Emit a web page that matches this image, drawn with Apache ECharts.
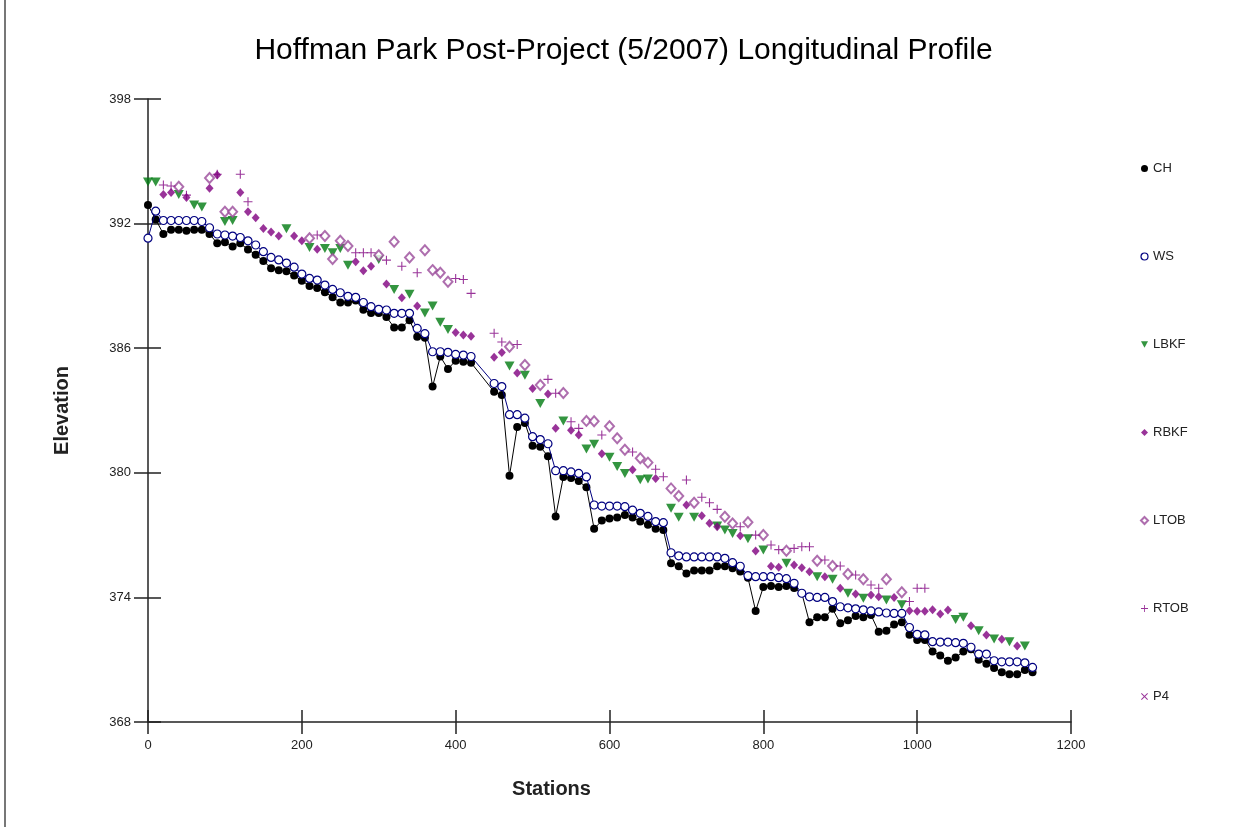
<!DOCTYPE html>
<html>
<head>
<meta charset="utf-8">
<title>Hoffman Park Longitudinal Profile</title>
<script src="https://cdn.jsdelivr.net/npm/echarts@6/dist/echarts.min.js"></script>
<style>
  html, body { margin: 0; padding: 0; background: #fff; }
  #chart { width: 1247px; height: 827px; }
</style>
</head>
<body>
<div id="chart"></div>
<script>
// thalweg (CH) and water surface (WS) share the same survey stations
var chStations = [0, 10, 20, 30, 40, 50, 60, 70, 80, 90, 100, 110, 120, 130, 140, 150, 160, 170, 180, 190,
    200, 210, 220, 230, 240, 250, 260, 270, 280, 290, 300, 310, 320, 330, 340, 350, 360, 370, 380, 390,
    400, 410, 420,
    450, 460, 470, 480, 490, 500, 510, 520, 530, 540, 550, 560, 570, 580, 590,
    600, 610, 620, 630, 640, 650, 660, 670, 680, 690, 700, 710, 720, 730, 740, 750, 760, 770, 780, 790,
    800, 810, 820, 830, 840, 850, 860, 870, 880, 890, 900, 910, 920, 930, 940, 950, 960, 970, 980, 990,
    1000, 1010, 1020, 1030, 1040, 1050, 1060, 1070, 1080, 1090, 1100, 1110, 1120, 1130, 1140, 1150];
var chElev = [392.9, 392.2, 391.5, 391.7, 391.7, 391.65, 391.7, 391.7, 391.5, 391.05,
    391.1, 390.9, 391.05, 390.75, 390.5, 390.2, 389.85, 389.75, 389.7, 389.5,
    389.25, 389.0, 388.9, 388.7, 388.45, 388.2, 388.2, 388.3, 387.85, 387.7,
    387.7, 387.5, 387.0, 387.0, 387.35, 386.55, 386.5, 384.15, 385.6, 385.0,
    385.4, 385.35, 385.3,
    383.9, 383.75, 379.86, 382.2, 382.4,
    381.3, 381.25, 380.8, 377.9, 379.8, 379.75, 379.6, 379.3, 377.3, 377.7,
    377.8, 377.85, 377.97, 377.85, 377.65, 377.5, 377.3, 377.25, 375.65, 375.5,
    375.15, 375.3, 375.3, 375.3, 375.5, 375.5, 375.4, 375.25, 374.95, 373.35,
    374.5, 374.55, 374.5, 374.55, 374.45, 374.2, 372.8, 373.05, 373.05, 373.45,
    372.75, 372.9, 373.1, 373.05, 373.15, 372.35, 372.4, 372.7, 372.8, 372.2,
    371.95, 371.95, 371.4, 371.2, 370.95, 371.1, 371.4, 371.5, 371.0, 370.8,
    370.6, 370.4, 370.3, 370.3, 370.5, 370.4];
var wsElev = [391.3, 392.6, 392.15, 392.15, 392.15, 392.15, 392.15, 392.1, 391.8, 391.5,
    391.45, 391.4, 391.33, 391.17, 390.97, 390.65, 390.37, 390.25, 390.1, 389.9,
    389.57, 389.36, 389.28, 389.04, 388.83, 388.67, 388.5, 388.45, 388.2, 388.0,
    387.87, 387.84, 387.68, 387.68, 387.68, 386.95, 386.7, 385.83, 385.83, 385.8,
    385.7, 385.67, 385.6,
    384.3, 384.15, 382.8, 382.8, 382.63,
    381.74, 381.6, 381.4, 380.1, 380.1, 380.04, 379.97, 379.8, 378.45, 378.4,
    378.4, 378.4, 378.37, 378.2, 378.05, 377.9, 377.65, 377.6, 376.15, 376.0,
    375.95, 375.95, 375.95, 375.95, 375.95, 375.88, 375.67, 375.5, 375.05, 375.0,
    375.0, 375.0, 374.95, 374.9, 374.68, 374.2, 374.03, 374.0, 374.0, 373.8,
    373.55, 373.5, 373.45, 373.4, 373.35, 373.3, 373.25, 373.23, 373.23, 372.55,
    372.22, 372.2, 371.87, 371.85, 371.85, 371.82, 371.79, 371.6, 371.27, 371.27,
    370.95, 370.9, 370.9, 370.9, 370.85, 370.63];

// left bankfull
var lbkfStations = [0, 10, 40, 60, 70, 100, 110, 180, 210, 230, 240, 250, 260, 300, 320, 340, 360, 370, 380, 390,
    470, 490, 510, 540, 570, 580, 600, 610, 620, 640, 650, 680, 690, 710, 740, 750, 760, 780, 800, 830,
    870, 890, 910, 930, 960, 980, 1050, 1060, 1080, 1100, 1120, 1140];
var lbkfElev = [394.0, 394.0, 393.4, 392.9, 392.8, 392.1, 392.15, 391.75, 390.85, 390.8, 390.6, 390.8, 390.0, 390.27, 388.83, 388.6, 387.7, 388.03, 387.25, 386.9,
    385.14, 384.7, 383.34, 382.5, 381.15, 381.38, 380.75, 380.3, 379.97, 379.66, 379.7, 378.29, 377.86, 377.86, 377.44, 377.25, 377.08, 376.82, 376.28, 375.64,
    375.0, 374.87, 374.2, 373.96, 373.87, 373.65, 372.94, 373.04, 372.4, 372.0, 371.87, 371.66];

// right bankfull
var rbkfStations = [20, 30, 50, 80, 90, 120, 130, 140, 150, 160, 170, 190, 200, 220, 270, 280, 290, 310, 330, 350,
    400, 410, 420, 450, 460, 480, 500, 520, 530, 550, 560, 590, 630, 660, 700, 720, 730, 740, 770, 790,
    810, 820, 840, 850, 860, 880, 900, 920, 940, 950, 970, 990, 1000, 1010, 1020, 1030, 1040, 1070, 1090, 1110, 1130];
var rbkfElev = [393.4, 393.5, 393.26, 393.7, 394.34, 393.5, 392.57, 392.28, 391.77, 391.6, 391.4, 391.4, 391.17, 390.76, 390.16, 389.73, 389.95, 389.09, 388.43, 388.03,
    386.76, 386.64, 386.58, 385.57, 385.79, 384.8, 384.06, 383.79, 382.14, 382.05, 381.82, 380.92, 380.15, 379.73, 378.45, 377.93, 377.57, 377.4, 376.97, 376.24,
    375.5, 375.45, 375.56, 375.43, 375.24, 375.0, 374.44, 374.16, 374.11, 374.03, 374.0, 373.36, 373.33, 373.33, 373.4, 373.2, 373.39, 372.64, 372.19, 371.98, 371.66];

// left top of bank
var ltobStations = [40, 80, 100, 110, 210, 230, 240, 250, 260, 300, 320, 340, 360, 370, 380, 390,
    470, 490, 510, 540, 570, 580, 600, 610, 620, 640, 650, 680, 690, 710, 750, 760, 780, 800, 830,
    870, 890, 910, 930, 960, 980];
var ltobElev = [393.77, 394.2, 392.57, 392.57, 391.3, 391.4, 390.3, 391.17, 390.92, 390.48, 391.13, 390.37, 390.72, 389.76, 389.63, 389.2,
    386.07, 385.19, 384.23, 383.84, 382.5, 382.48, 382.24, 381.66, 381.11, 380.7, 380.49, 379.25, 378.88, 378.56, 377.88, 377.56, 377.62, 377.0, 376.25,
    375.77, 375.51, 375.13, 374.87, 374.87, 374.25];

// right top of bank
var rtobStations = [20, 30, 50, 90, 120, 130, 220, 270, 280, 290, 310, 330, 350, 400, 410, 420,
    450, 460, 480, 520, 530, 550, 560, 590, 630, 660, 670, 700, 720, 730, 740, 770, 790,
    810, 820, 840, 850, 860, 880, 900, 920, 940, 950, 990, 1000, 1010];
var rtobElev = [393.86, 393.81, 393.37, 394.38, 394.38, 393.05, 391.45, 390.6, 390.6, 390.6, 390.24, 389.95, 389.63, 389.36, 389.31, 388.64,
    386.72, 386.3, 386.18, 384.5, 383.83, 382.46, 382.14, 381.82, 381.0, 380.17, 379.81, 379.65, 378.82, 378.56, 378.24, 377.4, 377.0,
    376.52, 376.3, 376.36, 376.44, 376.44, 375.8, 375.51, 375.08, 374.6, 374.44, 373.8, 374.44, 374.44];

// P4 only shows in the legend
var p4Stations = [];
var p4Elev = [];

var xTicks = { min: 0, max: 1200, step: 200 };
var yTicks = { min: 368, max: 398, step: 6 };

function pairs(xs, ys) {
    return xs.map(function (x, i) { return [x, ys[i]]; });
}
function plain(v) { return String(v); }

var plusPath = 'path://M4.4,0H5.6V4.4H10V5.6H5.6V10H4.4V5.6H0V4.4H4.4Z';
var crossPath = 'path://M1,0L5,4L9,0L10,1L6,5L10,9L9,10L5,6L1,10L0,9L4,5L0,1Z';
var downTriPath = 'path://M0,0L10,0L5,9Z';
var font = "'Liberation Sans', Arial, sans-serif";

var chart = echarts.init(document.getElementById('chart'));

var option = {
    animation: false,
    backgroundColor: '#fff',
    textStyle: { fontFamily: font },
    title: {
        text: 'Hoffman Park Post-Project (5/2007) Longitudinal Profile',
        left: 'center',
        top: 31,
        textStyle: { fontFamily: font, fontSize: 30, fontWeight: 'normal', color: '#000' }
    },
    grid: { left: 148, right: 176, top: 99, bottom: 105 },
    legend: {
        orient: 'vertical',
        left: 1135,
        top: 157,
        itemGap: 75,
        itemWidth: 7,
        itemHeight: 7,
        textStyle: { fontFamily: font, fontSize: 13, color: '#222' },
        data: [
            { name: 'CH', icon: 'circle' },
            { name: 'WS', icon: 'circle', itemStyle: { color: '#fff', borderColor: '#000080', borderWidth: 1.2 } },
            { name: 'LBKF', icon: downTriPath },
            { name: 'RBKF', icon: 'diamond' },
            { name: 'LTOB', icon: 'emptyDiamond' },
            { name: 'RTOB', icon: plusPath },
            { name: 'P4', icon: crossPath }
        ]
    },
    xAxis: [{
        type: 'value',
        min: xTicks.min, max: xTicks.max, interval: xTicks.step,
        name: 'Stations',
        nameLocation: 'middle',
        nameGap: 57,
        nameTextStyle: { fontFamily: font, fontSize: 20, fontWeight: 'bold', color: '#222', padding: [0, 116, 0, 0] },
        axisLine: { lineStyle: { color: '#222', width: 1.5 } },
        axisTick: { show: true, length: 12, lineStyle: { color: '#222', width: 1.5 } },
        axisLabel: { margin: 17, fontSize: 13, color: '#222', fontFamily: font, formatter: plain },
        splitLine: { show: false }
    }, {
        type: 'value', position: 'bottom',
        min: xTicks.min, max: xTicks.max, interval: xTicks.step,
        axisLine: { show: false },
        axisTick: { show: true, inside: true, length: 12, lineStyle: { color: '#222', width: 1.5 } },
        axisLabel: { show: false },
        splitLine: { show: false }
    }],
    yAxis: [{
        type: 'value',
        min: yTicks.min, max: yTicks.max, interval: yTicks.step,
        name: 'Elevation',
        nameLocation: 'middle',
        nameGap: 76,
        nameTextStyle: { fontFamily: font, fontSize: 20, fontWeight: 'bold', color: '#222' },
        axisLine: { lineStyle: { color: '#222', width: 1.5 } },
        axisTick: { show: true, length: 14, lineStyle: { color: '#222', width: 1.5 } },
        axisLabel: { margin: 17, fontSize: 13, color: '#222', fontFamily: font, formatter: plain },
        splitLine: { show: false }
    }, {
        type: 'value', position: 'left',
        min: yTicks.min, max: yTicks.max, interval: yTicks.step,
        axisLine: { show: false },
        axisTick: { show: true, inside: true, length: 13, lineStyle: { color: '#222', width: 1.5 } },
        axisLabel: { show: false },
        splitLine: { show: false }
    }],
    series: [{
        name: 'CH',
        type: 'line',
        data: pairs(chStations, chElev),
        symbol: 'circle',
        symbolSize: 8,
        showAllSymbol: true,
        lineStyle: { color: '#000', width: 1 },
        itemStyle: { color: '#000' },
        z: 3
    }, {
        name: 'WS',
        type: 'line',
        data: pairs(chStations, wsElev),
        symbol: 'circle',
        symbolSize: 8,
        showAllSymbol: true,
        lineStyle: { color: '#000080', width: 1 },
        itemStyle: { color: '#fff', borderColor: '#000080', borderWidth: 1.2 },
        z: 4
    }, {
        name: 'LBKF',
        type: 'scatter',
        data: pairs(lbkfStations, lbkfElev),
        symbol: downTriPath,
        symbolSize: [10, 9],
        itemStyle: { color: '#007a10' },
        z: 5
    }, {
        name: 'RBKF',
        type: 'scatter',
        data: pairs(rbkfStations, rbkfElev),
        symbol: 'diamond',
        symbolSize: [8, 9],
        itemStyle: { color: '#800080' },
        z: 5
    }, {
        name: 'LTOB',
        type: 'scatter',
        data: pairs(ltobStations, ltobElev),
        symbol: 'emptyDiamond',
        symbolSize: [9, 10],
        itemStyle: { color: '#9a4a9a', borderWidth: 1 },
        z: 5
    }, {
        name: 'RTOB',
        type: 'scatter',
        data: pairs(rtobStations, rtobElev),
        symbol: plusPath,
        symbolSize: 9,
        itemStyle: { color: '#800080' },
        z: 5
    }, {
        name: 'P4',
        type: 'scatter',
        data: pairs(p4Stations, p4Elev),
        symbol: crossPath,
        symbolSize: 9,
        itemStyle: { color: '#800080' },
        z: 5
    }],
    graphic: [{
        type: 'line',
        shape: { x1: 5, y1: 0, x2: 5, y2: 827 },
        style: { stroke: '#777', lineWidth: 2 }
    }]
};

chart.setOption(option);
</script>
</body>
</html>
